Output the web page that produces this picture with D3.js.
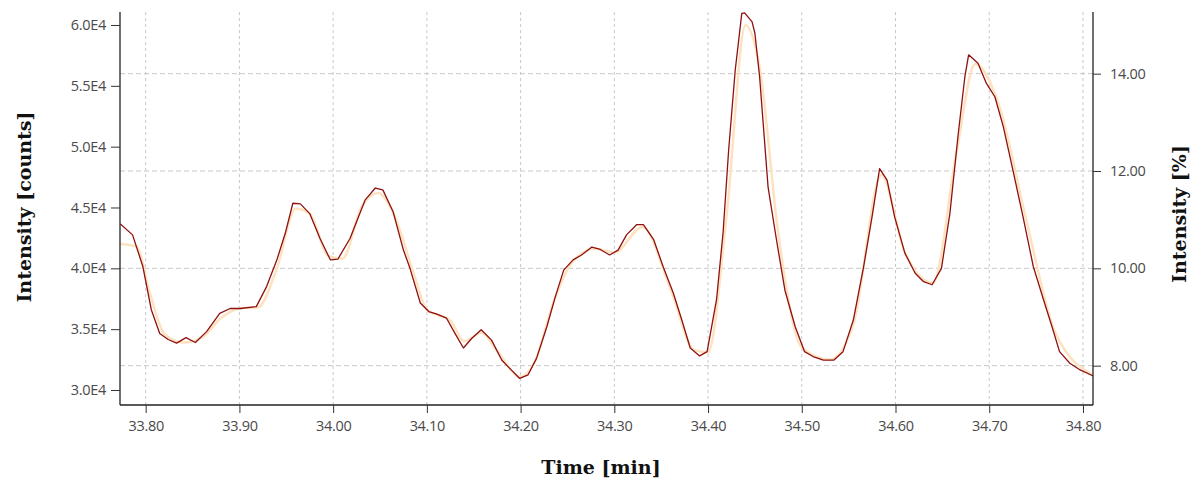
<!DOCTYPE html>
<html><head><meta charset="utf-8">
<script src="https://cdn.jsdelivr.net/npm/d3@7"></script>
<style>
html,body{margin:0;padding:0;background:#fff;}
svg{display:block;}
</style></head>
<body>
<svg id="chart" width="1199" height="488"></svg>
<script>
// Raw trace (dark red) : time [min] and intensity [counts]
const traceTimes = [33.773,33.786,33.797,33.806,33.815,33.824,33.833,33.843,33.853,33.865,33.879,33.890,33.901,33.918,33.929,33.940,33.949,33.957,33.965,33.975,33.986,33.997,34.005,34.018,34.034,34.045,34.053,34.064,34.075,34.082,34.093,34.102,34.110,34.121,34.130,34.139,34.148,34.158,34.169,34.180,34.190,34.199,34.208,34.217,34.228,34.237,34.246,34.256,34.265,34.276,34.285,34.295,34.304,34.313,34.324,34.331,34.342,34.352,34.363,34.372,34.381,34.391,34.399,34.409,34.416,34.422,34.429,34.436,34.439,34.447,34.450,34.455,34.464,34.473,34.482,34.493,34.503,34.512,34.523,34.534,34.544,34.555,34.566,34.575,34.583,34.591,34.599,34.610,34.621,34.630,34.639,34.649,34.658,34.667,34.674,34.678,34.688,34.697,34.706,34.715,34.726,34.736,34.747,34.758,34.767,34.775,34.786,34.797,34.811];
const traceCounts = [43650,42750,40150,36600,34650,34150,33850,34300,33900,34800,36300,36700,36700,36850,38500,40700,42900,45350,45300,44500,42450,40700,40750,42450,45600,46600,46450,44650,41500,40000,37150,36450,36250,35900,34650,33450,34250,34950,34100,32450,31650,30950,31250,32600,35200,37650,39850,40700,41100,41750,41550,41100,41500,42750,43600,43600,42350,40150,37950,35750,33450,32800,33150,37400,42900,49750,56300,60950,61000,60250,59300,55750,46700,42350,38200,35200,33150,32750,32450,32450,33150,35750,40150,44250,48200,47250,44250,41250,39600,38900,38650,40000,44500,51100,55750,57550,56850,55200,54100,51650,47800,44250,40150,37400,35200,33150,32200,31650,31150];
// Smoothed trace (light orange)
const smoothTimes = [33.773,33.790,33.805,33.820,33.840,33.860,33.880,33.900,33.920,33.940,33.960,33.975,33.995,34.010,34.030,34.048,34.065,34.085,34.100,34.125,34.140,34.158,34.175,34.200,34.215,34.235,34.255,34.280,34.300,34.330,34.360,34.385,34.400,34.420,34.440,34.455,34.475,34.500,34.530,34.555,34.585,34.610,34.640,34.665,34.685,34.710,34.740,34.770,34.811];
const smoothCounts = [42000,41800,37800,34600,33900,34300,35900,36700,36800,40000,44900,44500,41000,40800,45000,46200,44400,39800,36600,35700,34000,34700,33200,31100,32300,37200,40500,41600,41300,43400,38300,33300,33100,44500,60000,56500,42800,33500,32500,35400,47700,41300,38800,49500,56800,53500,43800,34800,31200];
// Axis ticks
const xTicks = [33.80,33.90,34.00,34.10,34.20,34.30,34.40,34.50,34.60,34.70,34.80];
const yLeftTicks = [30000,35000,40000,45000,50000,55000,60000];
const yRightTicks = [8,10,12,14];
const countsPerPercent = 4000;

const svg = d3.select("#chart");
const L = 120, R = 1093, T = 12, B = 405;

const x = d3.scaleLinear().domain([33.7726, 34.8107]).range([L, R]);
const y = d3.scaleLinear().domain([28767, 61068]).range([B, T]);
const y2 = d3.scaleLinear().domain([28767/countsPerPercent, 61068/countsPerPercent]).range([B, T]);

const tickFont = "'Open Sans', 'Noto Sans', sans-serif";
const titleFont = "'DejaVu Serif', 'Liberation Serif', serif";

// grid
const grid = svg.append("g");
grid.selectAll("line.v").data(xTicks).join("line")
  .attr("x1", d => x(d)).attr("x2", d => x(d)).attr("y1", T).attr("y2", B)
  .attr("stroke", "#c8c8c8").attr("stroke-width", 1).attr("stroke-dasharray", "3,3");
grid.selectAll("line.h").data(yRightTicks).join("line")
  .attr("x1", L).attr("x2", R).attr("y1", d => y2(d)).attr("y2", d => y2(d))
  .attr("stroke", "#c8c8c8").attr("stroke-width", 1).attr("stroke-dasharray", "5,3");

// clip
svg.append("clipPath").attr("id","clip").append("rect")
  .attr("x", L).attr("y", T-1).attr("width", R-L).attr("height", B-T+1);

const smoothData = smoothTimes.map((t,i)=>[t, smoothCounts[i]]);
const traceData = traceTimes.map((t,i)=>[t, traceCounts[i]]);

svg.append("path").datum(smoothData)
  .attr("clip-path","url(#clip)")
  .attr("fill","none").attr("stroke","#fde2bf").attr("stroke-width",2.5).attr("stroke-linejoin","round")
  .attr("d", d3.line().x(d=>x(d[0])).y(d=>y(d[1])).curve(d3.curveMonotoneX));

svg.append("path").datum(traceData)
  .attr("clip-path","url(#clip)")
  .attr("fill","none").attr("stroke","#8f1010").attr("stroke-width",1.3).attr("stroke-linejoin","round")
  .attr("d", d3.line().x(d=>x(d[0])).y(d=>y(d[1])));

// axes
const fmtE = d => (d/10000).toFixed(1) + "E4";
const gx = svg.append("g").attr("transform", `translate(0,${B})`)
  .call(d3.axisBottom(x).tickValues(xTicks).tickFormat(d3.format(".2f")).tickSizeInner(8).tickSizeOuter(0).tickPadding(8));
const gl = svg.append("g").attr("transform", `translate(${L},0)`)
  .call(d3.axisLeft(y).tickValues(yLeftTicks).tickFormat(fmtE).tickSizeInner(9).tickSizeOuter(0).tickPadding(5));
const gr = svg.append("g").attr("transform", `translate(${R},0)`)
  .call(d3.axisRight(y2).tickValues(yRightTicks).tickFormat(d3.format(".2f")).tickSizeInner(8).tickSizeOuter(0).tickPadding(9));

[gx, gl, gr].forEach(g => {
  g.select(".domain").attr("stroke", "#222").attr("stroke-width", 1.3);
  g.selectAll(".tick line").attr("stroke", "#333").attr("stroke-width", 1);
  g.selectAll(".tick text").attr("fill", "#4a4a4a").style("font-family", tickFont).style("font-size", "14.5px").style("letter-spacing","-0.3px");
});
gx.select(".domain").attr("d", `M${L},0H${R}`);
gl.select(".domain").attr("d", `M0,${T}V${B}`);
gr.select(".domain").attr("d", `M0,${T}V${B}`);

// titles
const tstyle = s => s.style("font-family", titleFont).style("font-weight","bold").style("font-size","19px").attr("fill","#111").attr("text-anchor","middle");
svg.append("text").attr("x", 601).attr("y", 474).call(tstyle).text("Time [min]");
svg.append("text").attr("transform","translate(31,207) rotate(-90)").call(tstyle).text("Intensity [counts]");
svg.append("text").attr("transform","translate(1186,214) rotate(-90)").call(tstyle).text("Intensity [%]");
</script>
</body></html>
